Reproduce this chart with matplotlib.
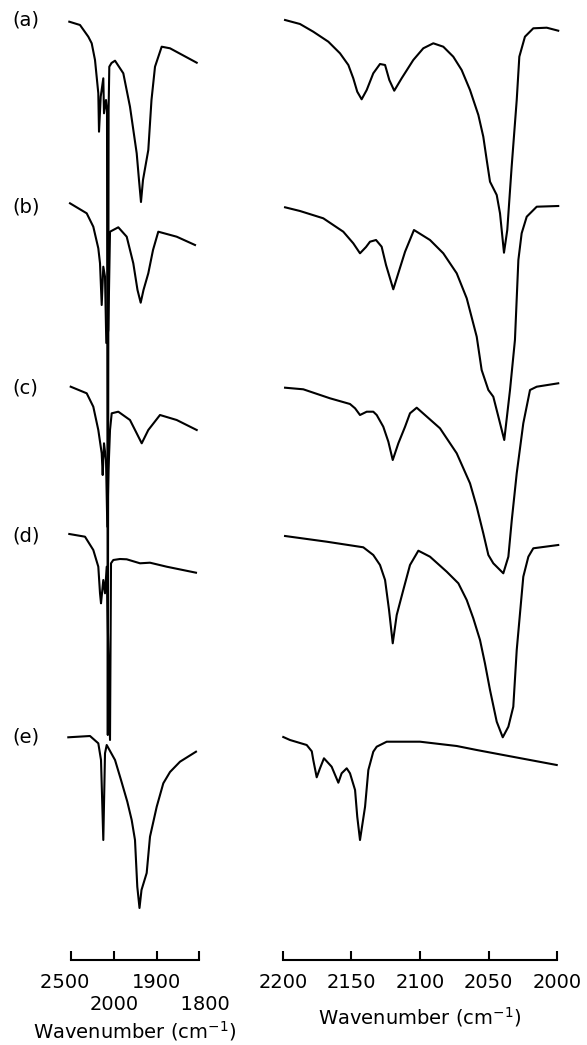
import numpy as np
import matplotlib
matplotlib.use("Agg")
import matplotlib.pyplot as plt

# ---------------- data ----------------
labels = ['(a)', '(b)', '(c)', '(d)', '(e)']
offsets = [98.0, 79.3, 61.2, 46.4, 26.3]

# left panel (broken scale 2500-2000 / 2000-1800)
left_wn_a = [2519.8, 2395.3, 2298.8, 2259.3, 2220.9, 2182.5, 2174.4, 2154.6, 2124.4, 2116.2, 2093.0, 2081.3,
             2072.0, 2062.7, 2054.6, 2029.0, 1997.6, 1978.1, 1962.4, 1946.6, 1941.2, 1936.5, 1931.8, 1919.3,
             1911.8, 1903.5, 1887.8, 1868.2, 1805.4]
left_a = [-0.17, -0.5, -1.67, -2.33, -4.0, -7.33, -11.17, -7.67, -5.83, -9.33, -8.0, -9.0,
          -71.5, -9.0, -4.67, -4.3, -4.07, -5.33, -8.67, -13.33, -16.0, -18.2, -16.0, -13.0,
          -8.0, -4.67, -2.67, -2.83, -4.27]

left_wn_b = [2511.6, 2317.4, 2240.7, 2182.5, 2162.7, 2143.0, 2124.4, 2104.6, 2089.5, 2066.2, 2046.4, 1989.9,
             1970.1, 1954.6, 1944.7, 1937.2, 1930.6, 1919.3, 1908.2, 1895.8, 1852.5, 1809.4]
left_b = [0.37, -0.63, -1.97, -4.13, -5.63, -9.8, -5.97, -6.97, -13.6, -12.3, -2.47, -2.03,
          -2.97, -5.63, -8.3, -9.57, -8.3, -6.63, -4.3, -2.47, -2.97, -3.8]

left_wn_c = [2503.5, 2317.4, 2240.7, 2182.5, 2143.0, 2131.3, 2116.2, 2093.0, 2077.8, 2063.9, 2046.4, 2026.7,
             1989.9, 1962.4, 1946.6, 1934.8, 1919.3, 1891.8, 1852.5, 1805.4]
left_c = [0.13, -0.53, -1.87, -4.2, -6.53, -8.7, -5.53, -7.2, -13.87, -8.2, -4.2, -2.53,
          -2.37, -3.2, -4.53, -5.53, -4.2, -2.7, -3.2, -4.2]

left_wn_d = [2519.8, 2337.2, 2240.7, 2182.5, 2162.7, 2151.1, 2124.4, 2104.6, 2084.8, 2046.4, 2034.8, 2008.1,
             1985.9, 1970.1, 1938.8, 1915.3, 1876.0, 1807.1]
left_d = [0.2, -0.07, -1.4, -3.07, -5.73, -6.73, -4.4, -5.73, -3.07, -20.4, -2.73, -2.4,
          -2.3, -2.33, -2.73, -2.67, -3.07, -3.67]

left_wn_e = [2531.4, 2279.0, 2182.5, 2151.1, 2124.4, 2104.6, 2084.8, 1997.6, 1983.5, 1968.7, 1958.4, 1950.6,
             1945.2, 1940.0, 1935.3, 1923.1, 1915.3, 1899.5, 1884.0, 1868.2, 1844.7, 1807.1]
left_e = [-0.03, 0.1, -0.63, -2.3, -10.3, -1.63, -0.8, -2.3, -4.3, -6.47, -8.3, -10.3,
          -14.97, -17.1, -15.3, -13.6, -9.97, -6.97, -4.63, -3.5, -2.47, -1.47]

# right panel (2200-2000)
right_wn_a = [2198.5, 2187.6, 2177.9, 2166.9, 2158.4, 2152.3, 2148.7, 2145.8, 2142.6, 2138.9, 2134.1, 2129.2,
              2125.5, 2122.4, 2118.8, 2113.4, 2104.9, 2097.6, 2090.3, 2083.0, 2075.7, 2069.6, 2063.5, 2057.4,
              2053.8, 2051.3, 2048.9, 2044.0, 2041.6, 2038.7, 2036.3, 2033.1, 2029.4, 2027.5, 2023.4, 2017.3,
              2007.5, 1999.1]
right_a = [0.0, -0.4, -1.17, -2.17, -3.33, -4.5, -5.83, -7.17, -7.93, -7.0, -5.33, -4.4,
           -4.5, -6.0, -7.07, -5.83, -4.0, -2.83, -2.33, -2.67, -3.67, -5.0, -7.0, -9.5,
           -11.67, -14.0, -16.17, -17.5, -19.33, -23.27, -21.0, -14.67, -8.0, -3.67, -1.67, -0.83,
           -0.77, -1.07]

right_wn_b = [2198.5, 2187.6, 2170.6, 2156.0, 2148.7, 2143.8, 2139.4, 2136.5, 2132.1, 2128.0, 2124.8, 2119.5,
              2115.1, 2110.9, 2104.4, 2092.7, 2083.0, 2073.2, 2065.9, 2058.6, 2055.0, 2050.1, 2046.5, 2043.1,
              2038.5, 2034.3, 2030.7, 2028.2, 2025.8, 2022.1, 2014.8, 1999.1]
right_b = [-0.03, -0.4, -1.13, -2.47, -3.63, -4.63, -4.0, -3.47, -3.3, -3.97, -5.8, -8.23,
           -6.3, -4.47, -2.3, -3.3, -4.63, -6.63, -9.13, -12.97, -16.3, -18.3, -18.97, -20.8,
           -23.3, -18.3, -13.3, -5.3, -2.63, -0.97, 0.03, 0.1]

right_wn_c = [2198.5, 2185.2, 2165.7, 2151.1, 2147.4, 2143.8, 2138.9, 2134.1, 2131.6, 2126.8, 2123.1, 2119.9,
              2115.8, 2110.9, 2107.3, 2102.4, 2085.4, 2073.2, 2063.5, 2058.6, 2053.8, 2050.1, 2046.5, 2039.2,
              2035.5, 2033.0, 2029.4, 2024.6, 2019.7, 2014.8, 1999.1]
right_c = [0.03, -0.13, -1.03, -1.6, -2.03, -2.7, -2.37, -2.37, -2.7, -3.87, -5.37, -7.2,
           -5.53, -3.87, -2.53, -1.97, -4.03, -6.53, -9.53, -11.87, -14.53, -16.7, -17.53, -18.53,
           -16.87, -13.2, -8.53, -3.53, -0.2, 0.13, 0.47]

right_wn_d = [2198.5, 2168.1, 2141.4, 2134.1, 2129.2, 2125.5, 2122.6, 2119.9, 2117.0, 2112.2, 2107.3, 2101.2,
              2092.7, 2080.5, 2072.0, 2065.9, 2061.1, 2056.2, 2052.6, 2048.9, 2044.0, 2039.6, 2035.5, 2031.9,
              2029.4, 2027.0, 2024.6, 2020.9, 2017.3, 1999.1]
right_d = [0.0, -0.57, -1.13, -1.9, -2.9, -4.4, -7.4, -10.73, -7.9, -5.4, -2.9, -1.47,
           -2.07, -3.57, -4.73, -6.4, -8.23, -10.4, -12.73, -15.4, -18.57, -20.13, -19.07, -17.07,
           -11.4, -7.73, -4.07, -2.07, -1.23, -0.9]

right_wn_e = [2199.8, 2194.9, 2182.7, 2179.0, 2177.9, 2175.4, 2173.0, 2170.1, 2164.5, 2159.6, 2157.2, 2153.5,
              2151.1, 2147.4, 2145.8, 2143.8, 2140.1, 2137.7, 2134.1, 2131.6, 2124.3, 2100.0, 2073.2, 2058.6,
              2039.2, 2019.7, 2000.2]
right_e = [0.0, -0.3, -0.8, -1.43, -2.3, -4.03, -3.13, -2.13, -2.97, -4.57, -3.63, -3.13,
           -3.63, -5.3, -7.97, -10.3, -6.97, -3.3, -1.47, -0.97, -0.47, -0.47, -0.9, -1.3,
           -1.8, -2.3, -2.8]

left_wn = [left_wn_a, left_wn_b, left_wn_c, left_wn_d, left_wn_e]
left_vals = [left_a, left_b, left_c, left_d, left_e]
right_wn = [right_wn_a, right_wn_b, right_wn_c, right_wn_d, right_wn_e]
right_vals = [right_a, right_b, right_c, right_d, right_e]

left_ticks_row1 = [2500, 1900]
left_labels_row1 = ['2500  ', '1900']
left_ticks_row2 = [2000, 1800]
left_labels_row2 = ['2000', '  1800']
right_ticks = [2200, 2150, 2100, 2050, 2000]
right_ticklabels = ['2200', '2150', '2100', '2050', '2000']

# ---------------- figure ----------------
W, H = 587, 1045
fig = plt.figure(figsize=(W / 100, H / 100), dpi=100)

bottom = (H - 960) / H
height = 960 / H
axL = fig.add_axes([71 / W, bottom, 128 / W, height])
axR = fig.add_axes([283 / W, bottom, 274 / W, height])


def fwd(w):
    w = np.asarray(w, dtype=float)
    return -np.where(w >= 2000, (2500 - w) * 0.086, 43 + (2000 - w) * 0.425)


def inv(p):
    p = -np.asarray(p, dtype=float)
    return np.where(p <= 43, 2500 - p / 0.086, 2000 - (p - 43) / 0.425)


axL.set_xscale('function', functions=(fwd, inv))
axL.set_xlim(2500, 1800)
axR.set_xlim(2200, 2000)

lw = 1.5
for i in range(5):
    axL.plot(left_wn[i], np.array(left_vals[i]) + offsets[i], color='black', lw=lw,
             clip_on=False, solid_joinstyle='round')
    axR.plot(right_wn[i], np.array(right_vals[i]) + offsets[i], color='black', lw=lw,
             clip_on=False, solid_joinstyle='round')
    axL.text(-0.461, offsets[i], labels[i], transform=axL.get_yaxis_transform(),
             ha='left', va='center', fontsize=14)

for ax in (axL, axR):
    ax.set_ylim(4, 100)
    for s in ('left', 'right', 'top'):
        ax.spines[s].set_visible(False)
    ax.spines['bottom'].set_linewidth(1.5)
    ax.set_yticks([])

axL.set_xticks(left_ticks_row1)
axL.set_xticklabels(left_labels_row1)
axL.set_xticks(left_ticks_row2, minor=True)
axL.set_xticklabels(left_labels_row2, minor=True)
axL.tick_params(axis='x', which='major', direction='in', length=6.5, width=1.5, labelsize=14, pad=9)
axL.tick_params(axis='x', which='minor', direction='in', length=6.5, width=1.5, labelsize=14, pad=25)

axR.set_xticks(right_ticks)
axR.set_xticklabels(right_ticklabels)
axR.minorticks_off()
axR.tick_params(axis='x', direction='in', length=6.5, width=1.5, labelsize=14, pad=9)

axL.set_xlabel('Wavenumber (cm$^{-1}$)', fontsize=14, labelpad=4)
axR.set_xlabel('Wavenumber (cm$^{-1}$)', fontsize=14, labelpad=10)

fig.savefig('out.png', dpi=100)
